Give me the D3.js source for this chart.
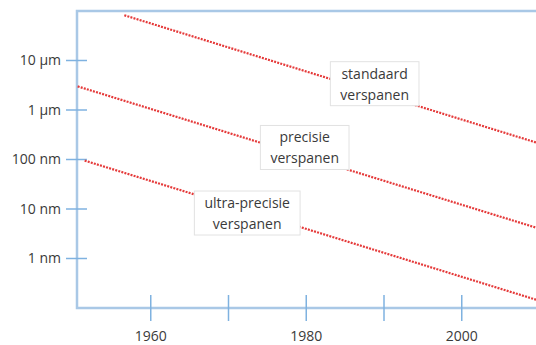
<!DOCTYPE html>
<html>
<head>
<meta charset="utf-8">
<script src="https://cdn.jsdelivr.net/npm/d3@7"></script>
<style>
  body { margin: 0; background: #fff; }
  text { font-family: "Open Sans", "Liberation Sans", sans-serif; fill: #3a3a3a; }
</style>
</head>
<body>
<svg id="chart"></svg>
<script>
// Chart size
const width = 536;
const height = 345;

// Values (values in nm)
const yTickValues = [1, 10, 100, 1000, 10000];
const yTickLabels = ["1 nm", "10 nm", "100 nm", "1 µm", "10 µm"];
const xMajorTicks = [1960, 1980, 2000];
const xMinorTicks = [1970, 1990];

// Trend lines: [year, value in nm]
const standaard = [[1956.6, 82000], [2010, 210]];
const precisie = [[1950.6, 3000], [2010, 4]];
const ultraPrecisie = [[1951.5, 95], [2010, 0.14]];

// Label anchors: [year, value in nm]
const labelNames = [["standaard", "verspanen"], ["precisie", "verspanen"], ["ultra-precisie", "verspanen"]];
const labelAnchors = [[1988.8, 3400], [1979.8, 175], [1972.4, 8.3]];

const svg = d3.select("#chart").attr("width", width).attr("height", height);

const x = d3.scaleLinear().domain([1950, 2010]).range([73, 539.5]);
const y = d3.scaleLog().domain([0.1, 100000]).range([308, 11]);

const axisColor = "#a9c8e6";
const tickColor = "#7fb2e0";
const plotLeft = 77, plotRight = width, plotTop = 11, plotBottom = 308;

// frame: left, top and bottom
svg.append("path")
  .attr("d", `M${plotRight},${plotTop} H${plotLeft} V${plotBottom} H${plotRight}`)
  .attr("fill", "none")
  .attr("stroke", axisColor)
  .attr("stroke-width", 2.5);

// y ticks
const yg = svg.append("g");
yTickValues.forEach((v, i) => {
  yg.append("line")
    .attr("x1", plotLeft - 11).attr("x2", plotLeft + 10)
    .attr("y1", y(v)).attr("y2", y(v))
    .attr("stroke", tickColor).attr("stroke-width", 1.5);
  yg.append("text")
    .attr("x", 61).attr("y", y(v))
    .attr("dy", "0.35em")
    .attr("text-anchor", "end")
    .attr("font-size", 14)
    .text(yTickLabels[i]);
});

// x ticks
xMajorTicks.concat(xMinorTicks).forEach(yr => {
  svg.append("line")
    .attr("x1", x(yr)).attr("x2", x(yr))
    .attr("y1", plotBottom - 13).attr("y2", plotBottom + 13)
    .attr("stroke", tickColor).attr("stroke-width", 1.5);
});
xMajorTicks.forEach(yr => {
  svg.append("text")
    .attr("x", x(yr)).attr("y", 341)
    .attr("text-anchor", "middle")
    .attr("font-size", 14)
    .text(yr);
});

// trend lines
const line = d3.line().x(d => x(d[0])).y(d => y(d[1]));
svg.append("defs").append("clipPath").attr("id", "clip")
  .append("rect").attr("x", plotLeft).attr("y", 0).attr("width", width - plotLeft).attr("height", plotBottom);

const lineGroup = svg.append("g").attr("clip-path", "url(#clip)");
[standaard, precisie, ultraPrecisie].forEach(s => {
  lineGroup.append("path")
    .attr("d", line(s))
    .attr("fill", "none")
    .attr("stroke", "#e53a3a")
    .attr("stroke-width", 2.2)
    .attr("stroke-dasharray", "2,1.2");
});

// label boxes
labelAnchors.forEach((a, i) => {
  const g = svg.append("g").attr("transform", `translate(${x(a[0])},${y(a[1])})`);
  const t = g.append("text")
    .attr("text-anchor", "middle")
    .attr("font-size", 14);
  labelNames[i].forEach((s, j) => {
    t.append("tspan").attr("x", 0).attr("y", j === 0 ? -5 : 16).text(s);
  });
  const bb = t.node().getBBox();
  g.insert("rect", "text")
    .attr("x", bb.x - 10).attr("y", bb.y - 2)
    .attr("width", bb.width + 20).attr("height", bb.height + 4)
    .attr("fill", "#fff")
    .attr("stroke", "#e2e2e2")
    .attr("stroke-width", 1);
});
</script>
</body>
</html>
